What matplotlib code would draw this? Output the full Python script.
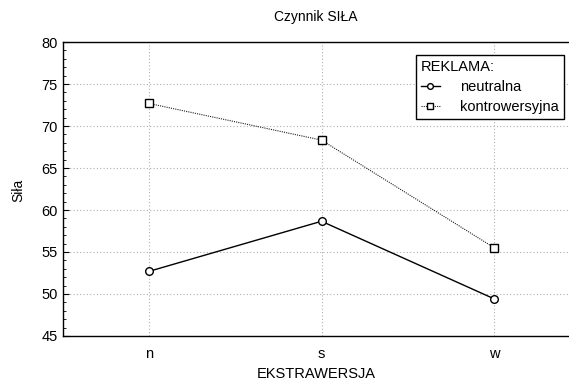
import matplotlib
matplotlib.use("Agg")
import matplotlib.pyplot as plt
from matplotlib.ticker import MultipleLocator

plt.rcParams['font.family'] = ['Liberation Sans', 'DejaVu Sans']

categories = ['n', 's', 'w']
neutralna = [52.7, 58.66, 49.44]
kontrowersyjna = [72.68, 68.32, 55.53]

W, H = 569, 383
L, R, T, B = 63, 580, 42, 336
fig = plt.figure(figsize=(W/100, H/100), dpi=100)
ax = fig.add_axes([L/W, 1 - B/H, (R-L)/W, (B-T)/H])

x = list(range(len(categories)))
ax.plot(x, neutralna, color='black', lw=1.0, marker='o', ms=5.5,
        mfc='white', mec='black', mew=1.0, label='neutralna', zorder=3, clip_on=False)
ax.plot(x, kontrowersyjna, color='#222222', lw=0.8, ls=(0, (1, 1)), marker='s', ms=5.5,
        mfc='white', mec='black', mew=1.0, label='kontrowersyjna', zorder=3, clip_on=False)

ax.set_xlim(-0.5, 2.5)
ax.set_ylim(45, 80)
ax.set_xticks(x)
ax.set_xticklabels(categories)
ax.yaxis.set_major_locator(MultipleLocator(5))
ax.yaxis.set_minor_locator(MultipleLocator(1))
ax.tick_params(axis='y', which='major', direction='in', length=4, labelsize=10.5, width=0.8, pad=4)
ax.tick_params(axis='y', which='minor', direction='in', length=2, width=0.6)
ax.tick_params(axis='x', which='major', length=0, labelsize=10.5, pad=8)
ax.grid(True, axis='both', which='major', color='#b0b0b0', ls=(0, (1, 2)), lw=0.8)
for s in ax.spines.values():
    s.set_linewidth(1.0)

fig.text(0.5 * (L + 569) / W, 1 - 17/H, 'Czynnik SIŁA', fontsize=10, ha='center', va='center')
fig.text(0.5 * (L + 569) / W, 1 - 374/H, 'EKSTRAWERSJA', fontsize=10.5, ha='center', va='center')
fig.text(18/W, 1 - 190/H, 'Siła', fontsize=10, rotation=90, ha='center', va='center')

leg = ax.legend(title='REKLAMA:', loc='upper right',
                bbox_to_anchor=(564/W, 1 - 55/H), bbox_transform=fig.transFigure,
                fontsize=10.5, title_fontsize=10.5, frameon=True, fancybox=False,
                edgecolor='black', framealpha=1, handlelength=1.3, borderpad=0.35,
                labelspacing=0.4, handletextpad=1.4, borderaxespad=0, markerscale=0.75)
leg._legend_box.align = 'left'
leg.get_frame().set_linewidth(1.0)

fig.savefig('out.png', dpi=100)
